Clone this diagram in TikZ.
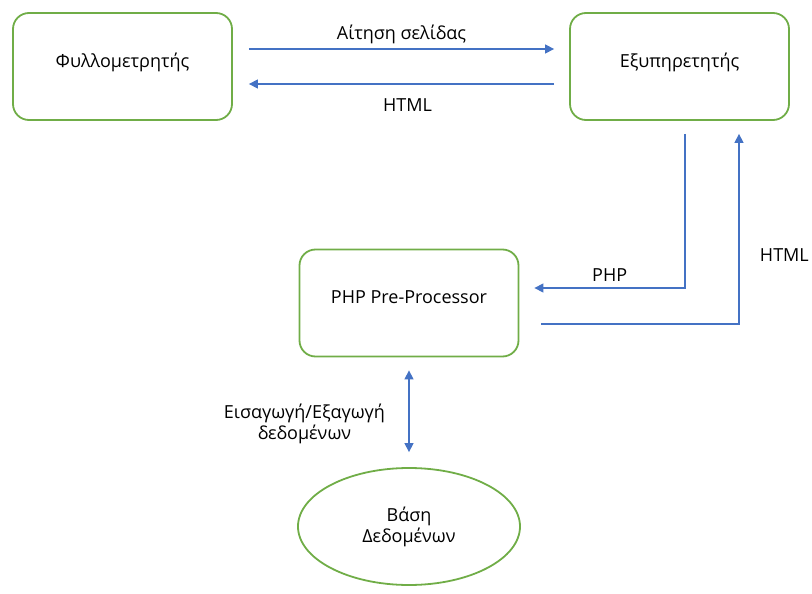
\documentclass[tikz,border=0pt]{standalone}
\usepackage{fontspec}
\setmainfont{Open Sans}
\usepackage{tikz}
\usetikzlibrary{calc, positioning, arrows.meta, shapes.geometric}
\usepackage{xcolor}
\definecolor{boxGreen}{RGB}{112, 173, 71}
\definecolor{flowBlue}{RGB}{68, 114, 196}

\begin{document}
\begin{tikzpicture}[x=1pt, y=-1pt, >={Triangle[length=9pt, width=9pt]},
    font=\fontsize{18}{21}\selectfont,
    box/.style={draw=boxGreen, line width=1.8pt, rounded corners=16pt,
                minimum width=219pt, minimum height=107pt, inner sep=0pt,
                text depth=12pt},
    store/.style={draw=boxGreen, line width=1.8pt, ellipse,
                  minimum width=222pt, minimum height=117pt, inner sep=0pt, align=center},
    flow/.style={draw=flowBlue, line width=1.3pt}]
  \useasboundingbox (0, 0) rectangle (812, 594);

  % Browser and server
  \node[box] (browser) at (122.5, 66.5) {Φυλλομετρητής};
  \node[box] (server)  at (679.5, 66.5) {Εξυπηρετητής};

  % Pre-processor and database
  \node[box] (php) at (409, 303) {PHP Pre-Processor};
  \node[store] (db) at (409, 526.5) {Βάση\\Δεδομένων};

  % Request / response
  \draw[flow, ->] ([xshift=16pt, yshift=17.5pt]browser.east)
    -- node[above=1pt]{Αίτηση σελίδας} ([xshift=-15pt, yshift=17.5pt]server.west);
  \draw[flow, ->] ([xshift=-15pt, yshift=-17.5pt]server.west)
    -- node[below=11pt, xshift=6pt]{HTML} ([xshift=16pt, yshift=-17.5pt]browser.east);

  % Server <-> pre-processor
  \draw[flow, ->] ([xshift=5.5pt, yshift=-13pt]server.south)
    |- node[pos=0.75, above=3pt]{PHP} ([xshift=15pt, yshift=15pt]php.east);
  \draw[flow, ->] ([xshift=22pt, yshift=-21pt]php.east)
    -| node[pos=0.68, right=17pt]{HTML} ([xshift=59.5pt, yshift=-13pt]server.south);

  % Pre-processor <-> database
  \draw[flow, <->] ([yshift=-13pt]php.south)
    -- node[pos=0.65, left=20pt, align=center]{Εισαγωγή/Εξαγωγή\\δεδομένων} ([yshift=15pt]db.north);
\end{tikzpicture}
\end{document}
